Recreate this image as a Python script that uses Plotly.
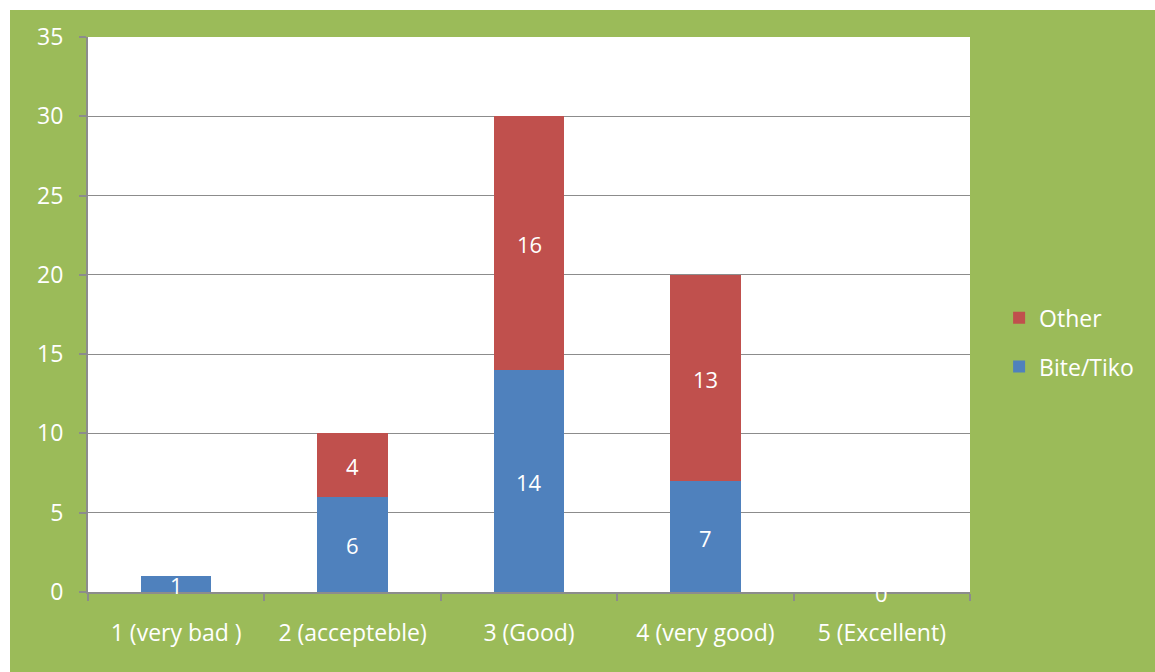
import plotly.graph_objects as go

categories = ["1 (very bad )", "2 (accepteble)", "3 (Good)", "4 (very good)", "5 (Excellent)"]
bite_tiko = [1, 6, 14, 7, 0]
other = [None, 4, 16, 13, None]

BLUE = "#4F81BD"
RED = "#C0504D"
GREEN = "#9BBB59"
GRID = "#8C8C8C"
FONT = "Open Sans"

fig = go.Figure()
fig.add_trace(go.Bar(x=categories, y=bite_tiko, name="Bite/Tiko",
                     marker=dict(color=BLUE, line=dict(width=0)),
                     legendgroup="a", legendrank=2))
fig.add_trace(go.Bar(x=categories, y=other, name="Other",
                     marker=dict(color=RED, line=dict(width=0)),
                     legendgroup="b", legendrank=1))

# value labels centred in each stacked segment
annotations = []
for cat, b, o in zip(categories, bite_tiko, other):
    if b is not None:
        annotations.append(dict(x=cat, y=b / 2, text=str(b), showarrow=False,
                                font=dict(color="white", size=22, family=FONT),
                                yshift=-1))
    if o is not None:
        base = b or 0
        annotations.append(dict(x=cat, y=base + o / 2, text=str(o), showarrow=False,
                                font=dict(color="white", size=22, family=FONT),
                                yshift=-1))

W, H = 1155, 672
L, R, T, B = 88, 185, 37, 80
pw, ph = W - L - R, H - T - B

shapes = [
    # white margin strips framing the green chart area
    dict(type="rect", xref="paper", yref="paper",
         x0=-L / pw, x1=(10 - L) / pw, y0=-B / ph, y1=1 + T / ph,
         fillcolor="white", line=dict(width=0), layer="above"),
    dict(type="rect", xref="paper", yref="paper",
         x0=-L / pw, x1=1 + R / pw, y0=1 + (T - 10) / ph, y1=1 + T / ph,
         fillcolor="white", line=dict(width=0), layer="above"),
]

fig.update_layout(
    width=W, height=H,
    margin=dict(l=L, r=R, t=T, b=B),
    paper_bgcolor=GREEN,
    plot_bgcolor="white",
    barmode="stack",
    bargap=0.6,
    font=dict(family=FONT, color="white", size=20),
    annotations=annotations,
    shapes=shapes,
    showlegend=True,
    legend=dict(x=1.033, y=0.45, xanchor="left", yanchor="middle",
                traceorder="grouped", tracegroupgap=16,
                font=dict(size=23, color="white", family=FONT),
                itemwidth=30, bgcolor="rgba(0,0,0,0)"),
    xaxis=dict(
        showline=True, linecolor=GRID, linewidth=2,
        ticks="outside", tickson="boundaries", ticklen=7, tickcolor=GRID, tickwidth=2,
        tickfont=dict(size=23, color="white", family=FONT),
        showgrid=False,
        ticklabelstandoff=19,
    ),
    yaxis=dict(
        range=[0, 35], dtick=5, tick0=0,
        showline=True, linecolor=GRID, linewidth=2,
        ticks="outside", ticklen=7, tickcolor=GRID, tickwidth=2,
        showgrid=True, gridcolor=GRID, gridwidth=1,
        tickfont=dict(size=23, color="white", family=FONT),
        zeroline=False,
        ticklabelstandoff=11,
    ),
)

fig.write_html("out.html")
